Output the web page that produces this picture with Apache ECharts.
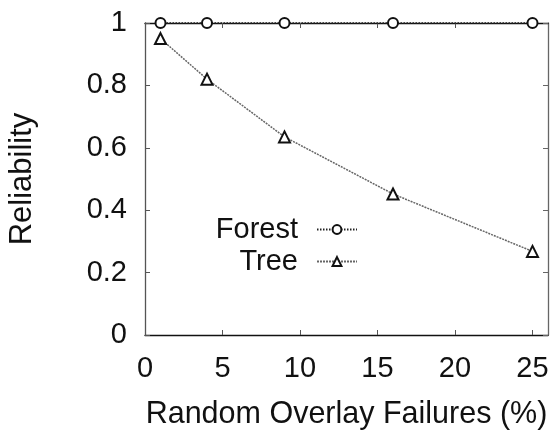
<!DOCTYPE html>
<html><head><meta charset="utf-8">
<script src="https://cdn.jsdelivr.net/npm/echarts@6/dist/echarts.min.js"></script>
<style>html,body{margin:0;padding:0;background:#fff}#c{width:555px;height:434px}</style>
</head><body><div id="c"></div>
<script>
const failures = [1, 4, 9, 16, 25];
const forest = [1.0, 1.0, 1.0, 1.0, 1.0];
const tree = [0.95, 0.82, 0.635, 0.452, 0.268];
const xTicks = [0, 5, 10, 15, 20, 25];
const yTicks = [0, 0.2, 0.4, 0.6, 0.8, 1];

const font = 'Liberation Sans, Arial, Helvetica, sans-serif';
const fs = 29;
const chart = echarts.init(document.getElementById('c'), null, {renderer: 'canvas'});
chart.setOption({
  animation: false,
  backgroundColor: '#fff',
  grid: {left: 145, top: 23, right: 7, bottom: 99, containLabel: false, outerBoundsMode: 'none'},
  xAxis: [{
    type: 'value', min: 0, max: 26, position: 'bottom',
    name: 'Random Overlay Failures (%)', nameLocation: 'middle', nameGap: 64,
    nameTextStyle: {fontFamily: font, fontSize: 30.5, color: '#111'},
    axisLine: {show: true, lineStyle: {color: '#111', width: 1.3}},
    axisTick: {show: true, inside: true, length: 5, customValues: xTicks, lineStyle: {color: '#555'}},
    axisLabel: {customValues: xTicks, fontFamily: font, fontSize: fs, color: '#111', margin: 19},
    splitLine: {show: false}
  }, {
    type: 'value', min: 0, max: 26, position: 'top',
    axisLine: {show: true, onZero: false, lineStyle: {color: '#111', width: 1.3}},
    axisTick: {show: true, inside: true, length: 5, customValues: xTicks, lineStyle: {color: '#555'}},
    axisLabel: {show: false}, splitLine: {show: false}
  }],
  yAxis: [{
    type: 'value', min: 0, max: 1, interval: 0.2, position: 'left',
    name: 'Reliability', nameLocation: 'middle', nameGap: 107,
    nameTextStyle: {fontFamily: font, fontSize: 31, color: '#111'},
    axisLine: {show: true, lineStyle: {color: '#555', width: 1.3}},
    axisTick: {show: true, inside: true, length: 5, lineStyle: {color: '#555'}},
    axisLabel: {customValues: yTicks, fontFamily: font, fontSize: fs, color: '#111', margin: 18},
    splitLine: {show: false}
  }, {
    type: 'value', min: 0, max: 1, interval: 0.2, position: 'right',
    axisLine: {show: true, onZero: false, lineStyle: {color: '#666', width: 1.3}},
    axisTick: {show: true, inside: true, length: 5, lineStyle: {color: '#666'}},
    axisLabel: {show: false}, splitLine: {show: false}
  }],
  legend: [{
    data: ['Forest'], right: 192, top: 210, orient: 'vertical', align: 'right',
    itemWidth: 40, itemHeight: 11,
    textStyle: {fontFamily: font, fontSize: fs, color: '#111', padding: [0, 14, 0, 0]}
  }, {
    data: ['Tree'], right: 192, top: 242, orient: 'vertical', align: 'right',
    itemWidth: 40, itemHeight: 11,
    textStyle: {fontFamily: font, fontSize: fs, color: '#111', padding: [0, 14, 0, 0]}
  }],
  series: [{
    name: 'Forest', type: 'line', xAxisIndex: 0, yAxisIndex: 0,
    data: failures.map((x, i) => [x, forest[i]]),
    symbol: 'circle', symbolSize: 10,
    itemStyle: {color: '#fff', borderColor: '#111', borderWidth: 2},
    lineStyle: {color: '#222', width: 1.5, type: [1.5, 1.5]},
    clip: false
  }, {
    name: 'Tree', type: 'line', xAxisIndex: 0, yAxisIndex: 0,
    data: failures.map((x, i) => [x, tree[i]]),
    symbol: 'triangle', symbolSize: 11,
    itemStyle: {color: '#fff', borderColor: '#111', borderWidth: 2},
    lineStyle: {color: '#666', width: 1.5, type: [2, 1]},
    clip: false
  }]
});
</script></body></html>
